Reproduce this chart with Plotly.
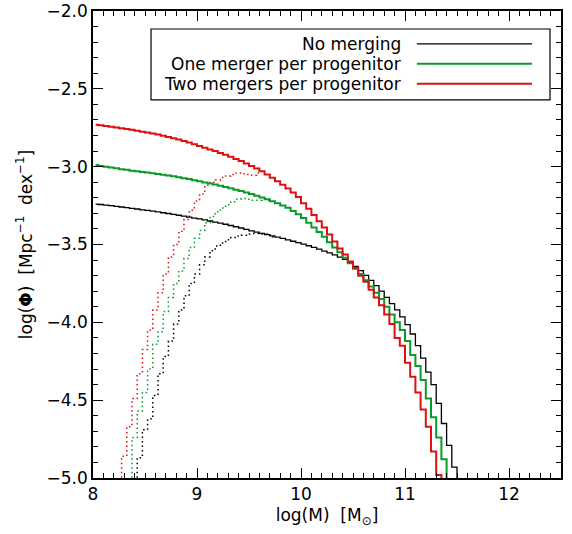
import numpy as np
import plotly.graph_objects as go

# ---------------- data ----------------
series_names = ["No merging", "One merger per progenitor", "Two mergers per progenitor"]
series_colors = ["#000000", "#0a9a2a", "#dd1111"]

# solid histograms: bins of 0.05 dex, first bin centre 8.025
solid_start = 8.025
bin_width = 0.05
no_merging = [
    -3.240, -3.243, -3.247, -3.250, -3.255, -3.259, -3.263, -3.268, -3.272, -3.277,
    -3.281, -3.286, -3.291, -3.296, -3.301, -3.306, -3.312, -3.318, -3.324, -3.330,
    -3.336, -3.342, -3.349, -3.356, -3.363, -3.370, -3.378, -3.386, -3.394, -3.403,
    -3.412, -3.420, -3.428, -3.436, -3.444, -3.452, -3.461, -3.470, -3.479, -3.488,
    -3.498, -3.508, -3.519, -3.530, -3.542, -3.554, -3.567, -3.581, -3.596, -3.616,
    -3.640, -3.668, -3.698, -3.730, -3.764, -3.800, -3.840, -3.880, -3.920, -3.965,
    -4.015, -4.075, -4.150, -4.230, -4.320, -4.400, -4.520, -4.650, -4.790, -4.930,
    -5.150,
]
one_merger = [
    -2.990, -2.995, -3.000, -3.005, -3.010, -3.016, -3.020, -3.026, -3.030, -3.035,
    -3.038, -3.042, -3.047, -3.052, -3.057, -3.062, -3.068, -3.074, -3.080, -3.087,
    -3.094, -3.101, -3.108, -3.115, -3.123, -3.131, -3.139, -3.148, -3.157, -3.166,
    -3.176, -3.187, -3.198, -3.210, -3.222, -3.235, -3.249, -3.264, -3.285, -3.305,
    -3.330, -3.360, -3.390, -3.420, -3.450, -3.485, -3.520, -3.550, -3.585, -3.620,
    -3.655, -3.690, -3.730, -3.770, -3.810, -3.850, -3.900, -3.950, -4.000, -4.050,
    -4.120, -4.210, -4.280, -4.370, -4.490, -4.610, -4.740, -4.880, -5.200,
]
two_mergers = [
    -2.730, -2.734, -2.739, -2.743, -2.748, -2.753, -2.758, -2.763, -2.769, -2.775,
    -2.781, -2.787, -2.794, -2.801, -2.809, -2.817, -2.826, -2.835, -2.845, -2.856,
    -2.867, -2.878, -2.889, -2.900, -2.912, -2.924, -2.937, -2.950, -2.964, -2.979,
    -2.995, -3.012, -3.030, -3.050, -3.071, -3.093, -3.116, -3.140, -3.166, -3.195,
    -3.235, -3.270, -3.310, -3.350, -3.390, -3.435, -3.480, -3.525, -3.565, -3.610,
    -3.650, -3.700, -3.740, -3.790, -3.840, -3.890, -3.950, -4.010, -4.100, -4.150,
    -4.260, -4.350, -4.450, -4.560, -4.670, -4.830, -4.980, -5.300,
]

# dotted histograms: bins of 0.05 dex centred on multiples of 0.05
no_merging_dot_start = 8.40
no_merging_dot = [
    -5.30, -4.87, -4.69, -4.62, -4.47, -4.33, -4.22, -4.12, -4.01, -3.92,
    -3.83, -3.75, -3.69, -3.63, -3.58, -3.54, -3.51, -3.49, -3.47, -3.455,
    -3.445, -3.44, -3.432, -3.43, -3.43, -3.432, -3.44, -3.45,
]
one_merger_dot_start = 8.35
one_merger_dot = [
    -5.30, -4.74, -4.57, -4.45, -4.30, -4.14, -4.06, -3.93, -3.84, -3.75,
    -3.67, -3.59, -3.52, -3.46, -3.41, -3.36, -3.32, -3.29, -3.265, -3.245,
    -3.225, -3.21, -3.205, -3.21, -3.215, -3.215, -3.21, -3.216,
]
two_mergers_dot_start = 8.25
two_mergers_dot = [
    -5.30, -4.86, -4.67, -4.49, -4.33, -4.175, -4.05, -3.92, -3.81, -3.69,
    -3.58, -3.50, -3.415, -3.34, -3.28, -3.22, -3.175, -3.12, -3.10, -3.085,
    -3.07, -3.06, -3.05, -3.04, -3.045, -3.05, -3.055, -3.04,
]

x_ticks = [8, 9, 10, 11, 12]
y_ticks = [-5.0, -4.5, -4.0, -3.5, -3.0, -2.5, -2.0]

# ---------------- figure ----------------
def centres(start, n):
    return np.round(start + bin_width * np.arange(n), 4)

fig = go.Figure()
FONT = "DejaVu Sans"

dotted = [(no_merging_dot_start, no_merging_dot), (one_merger_dot_start, one_merger_dot),
          (two_mergers_dot_start, two_mergers_dot)]
solid = [no_merging, one_merger, two_mergers]
solid_widths = [1.3, 2.0, 2.0]

for (start, vals), col in zip(dotted, series_colors):
    fig.add_trace(go.Scatter(x=centres(start, len(vals)), y=vals, mode="lines",
                             line=dict(shape="hvh", color=col, width=1.5, dash="1.5px,3px"),
                             showlegend=False, hoverinfo="skip"))
for vals, col, w, name in zip(solid, series_colors, solid_widths, series_names):
    fig.add_trace(go.Scatter(x=centres(solid_start, len(vals)), y=vals, mode="lines",
                             line=dict(shape="hvh", color=col, width=w),
                             name=name, showlegend=False))

axis_common = dict(
    showline=True, linecolor="black", linewidth=1.5, mirror="ticks",
    ticks="inside", ticklen=10, tickwidth=1, tickcolor="black",
    showgrid=False, zeroline=False, automargin=False, ticklabeloverflow="allow",
    tickfont=dict(family=FONT, size=17, color="black"),
    minor=dict(ticks="inside", ticklen=5, tickwidth=1, tickcolor="black", dtick=0.1, showgrid=False),
)

fig.update_layout(
    width=572, height=534,
    margin=dict(l=93, r=11, t=11, b=56),
    paper_bgcolor="white", plot_bgcolor="white",
    showlegend=False,
    xaxis=dict(range=[8, 12.5], tickvals=x_ticks, ticktext=[str(v) for v in x_ticks],
               title=dict(text="log(M)  [M<sub>⊙</sub>]", font=dict(family=FONT, size=17, color="black"),
                          standoff=6),
               **axis_common),
    yaxis=dict(range=[-5, -2], tickvals=y_ticks, tickformat=".1f",
               title=dict(text="log(<b>Φ</b>)  [Mpc<sup>−1</sup>  dex<sup>−1</sup>]",
                          font=dict(family=FONT, size=17, color="black"), standoff=10),
               **axis_common),
)

# legend box drawn manually (text left, line sample right)
fig.add_shape(type="rect", xref="paper", yref="paper", x0=0.124, x1=0.9765, y0=0.8098, y1=0.9615,
              line=dict(color="black", width=1.2), fillcolor="white", layer="above")
leg_y = [0.9295, 0.8868, 0.8440]
for name, col, w, yy in zip(series_names, series_colors, solid_widths, leg_y):
    fig.add_annotation(xref="paper", yref="paper", x=0.6624, y=yy, text=name, showarrow=False,
                       xanchor="right", yanchor="middle",
                       font=dict(family=FONT, size=17, color="black"))
    fig.add_shape(type="line", xref="paper", yref="paper", x0=0.692, x1=0.938, y0=yy, y1=yy,
                  line=dict(color=col, width=w), layer="above")

fig.write_html("out.html")
